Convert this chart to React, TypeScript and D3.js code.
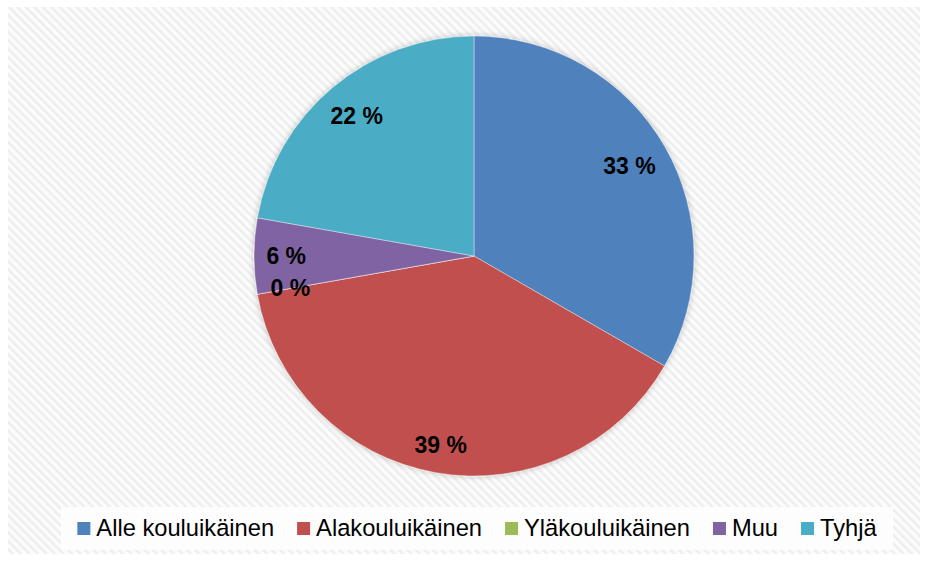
import React from "react";
import * as d3 from "d3";

const categories = ["Alle kouluikäinen", "Alakouluikäinen", "Yläkouluikäinen", "Muu", "Tyhjä"];
const values = [60, 70, 0, 10, 40];
const colors = ["#4F81BD", "#C0504D", "#9BBB59", "#8064A2", "#4BACC6"];

const W = 928;
const H = 561;
const cx = 474;
const cy = 256;
const R = 220;
const FONT = "'Liberation Sans', Arial, sans-serif";

export default function App() {
  const total = d3.sum(values);
  const pie = d3.pie<number>().sort(null).value((d) => d)(values);
  const arc = d3.arc<d3.PieArcDatum<number>>().innerRadius(0).outerRadius(R);

  const labelFont = 23;
  const D = 208;
  const labels = pie.map((p, i) => {
    const pct = Math.round((values[i] / total) * 100);
    const text = `${pct} %`;
    const mid = (p.startAngle + p.endAngle) / 2;
    const ux = Math.sin(mid);
    const uy = -Math.cos(mid);
    const w = text.length === 3 ? 40 : 54;
    const hw = w / 2;
    const hh = 10;
    const c = [ux >= 0 ? hw : -hw, uy >= 0 ? hh : -hh];
    const uc = ux * c[0] + uy * c[1];
    const cc = c[0] * c[0] + c[1] * c[1];
    const r = -uc + Math.sqrt(uc * uc - cc + D * D);
    return { text, x: cx + r * ux, y: cy + r * uy };
  });

  // legend layout
  const legendFont = 23.7;
  const swatch = 13;
  const ctx = document.createElement("canvas").getContext("2d")!;
  ctx.font = `${legendFont}px ${FONT}`;
  const textWidths = categories.map((c) => ctx.measureText(c).width);
  const gapSwatch = 6;
  const gapItem = 23;
  const totalW =
    d3.sum(textWidths) + categories.length * (swatch + gapSwatch) + (categories.length - 1) * gapItem;
  let lx = 477 - totalW / 2;
  const legendItems = categories.map((c, i) => {
    const item = { name: c, x: lx, color: colors[i] };
    lx += swatch + gapSwatch + textWidths[i] + gapItem;
    return item;
  });

  return (
    <svg
      width={W}
      height={H}
      style={{ position: "absolute", left: 0, top: 0, display: "block" }}
      fontFamily={FONT}
    >
      <defs>
        <pattern
          id="diag"
          width="6"
          height="6"
          patternUnits="userSpaceOnUse"
          patternTransform="rotate(-45)"
        >
          <rect width="6" height="6" fill="#fcfcfc" />
          <rect width="2.5" height="6" fill="#eeeeee" />
        </pattern>
        <filter id="shadow" x="-20%" y="-20%" width="140%" height="140%">
          <feGaussianBlur in="SourceAlpha" stdDeviation="3" />
          <feOffset dx="0" dy="0" result="b" />
          <feComponentTransfer>
            <feFuncA type="linear" slope="0.25" />
          </feComponentTransfer>
          <feMerge>
            <feMergeNode />
            <feMergeNode in="SourceGraphic" />
          </feMerge>
        </filter>
      </defs>
      <rect x={0} y={0} width={W} height={H} fill="#ffffff" />
      <rect x={8} y={7} width={912} height={547} fill="url(#diag)" />

      <g transform={`translate(${cx},${cy})`} filter="url(#shadow)">
        {pie.map((p, i) => (
          <path
            key={i}
            d={arc(p) || ""}
            fill={colors[i]}
            stroke="#ffffff"
            strokeOpacity={0.5}
            strokeWidth={0.75}
          />
        ))}
      </g>

      {labels.map((l, i) => (
        <text
          key={i}
          x={l.x}
          y={l.y}
          textAnchor="middle"
          dominantBaseline="central"
          fontSize={labelFont}
          fontWeight="bold"
          fill="#000"
        >
          {l.text}
        </text>
      ))}

      <rect x={61} y={507} width={832} height={43} fill="#fdfdfd" />
      {legendItems.map((it, i) => (
        <g key={i}>
          <rect x={it.x} y={522} width={swatch} height={swatch} fill={it.color} />
          <text x={it.x + swatch + gapSwatch} y={535.5} fontSize={legendFont} fill="#000">
            {it.name}
          </text>
        </g>
      ))}
    </svg>
  );
}
